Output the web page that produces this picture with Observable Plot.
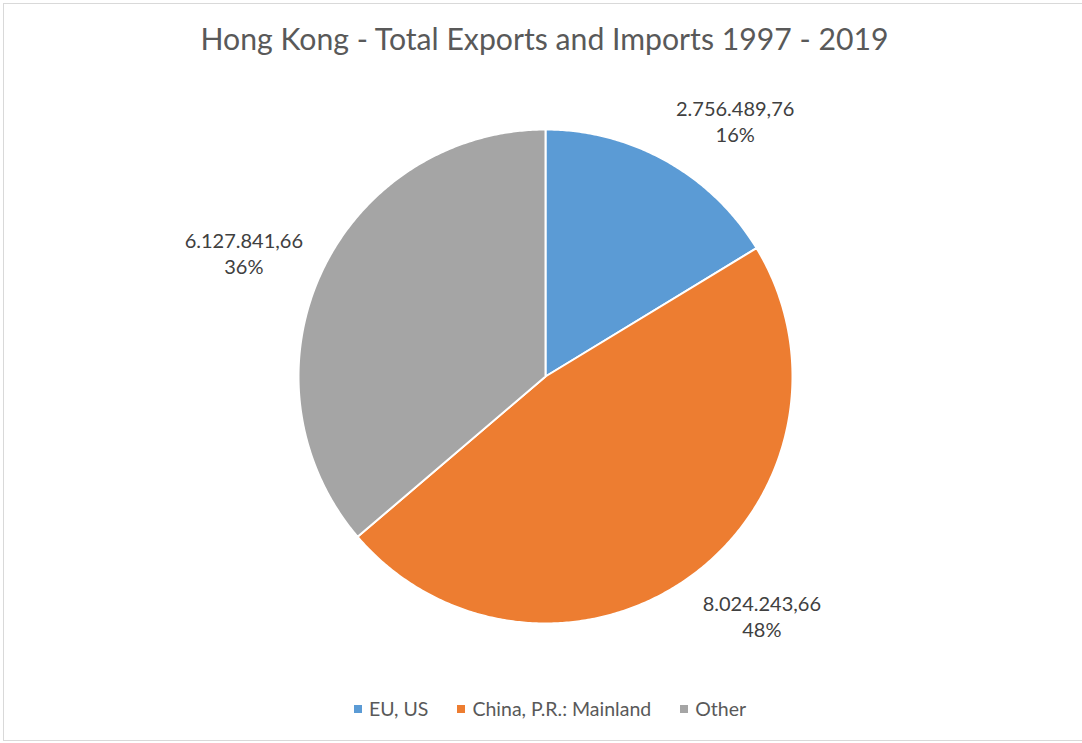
<!DOCTYPE html>
<html>
<head>
<meta charset="utf-8">
<script src="https://cdn.jsdelivr.net/npm/d3@7"></script>
<script src="https://cdn.jsdelivr.net/npm/@observablehq/plot@0.6"></script>
<style>
  html, body { margin: 0; padding: 0; background: #fff; }
  #wrap { position: relative; width: 1082px; height: 743px; overflow: hidden; font-family: Lato, "Open Sans", sans-serif; }
  #frame { position: absolute; left: 3px; top: 3px; width: 1100px; height: 736px; border: 1px solid #d9d9d9; border-right: none; }
  #title { position: absolute; left: 0; top: 20px; width: 1089px; text-align: center; font-size: 30.2px; color: #595959; white-space: nowrap; }
  #chart { position: absolute; left: 0; top: 0; }
  #legend { position: absolute; left: 0; top: 697px; width: 1100px; display: flex; justify-content: center; gap: 29px; font-size: 19.5px; color: #595959; }
  #legend .item { display: flex; align-items: center; }
  #legend .sw { width: 8px; height: 8px; margin-right: 7px; }
</style>
</head>
<body>
<div id="wrap">
  <div id="frame"></div>
  <div id="chart"></div>
  <div id="title">Hong Kong - Total Exports and Imports 1997 - 2019</div>
  <div id="legend"></div>
</div>
<script>
const categories = ["EU, US", "China, P.R.: Mainland", "Other"];
const values = [2756489.76, 8024243.66, 6127841.66];
const colors = ["#5B9BD5", "#ED7D31", "#A5A5A5"];

const W = 1082, H = 743, CX = 545, CY = 376, R = 247;

const data = categories.map((name, i) => ({name, value: values[i]}));
const total = d3.sum(values);
const arcs = d3.pie().sort(null).value(d => d.value)(data);

// whole percentages that add up to 100 (largest remainder)
const raw = values.map(v => v / total * 100);
const pct = raw.map(Math.floor);
let left = 100 - d3.sum(pct);
d3.range(values.length).sort((a, b) => (raw[b] - pct[b]) - (raw[a] - pct[a]))
  .forEach(i => { if (left > 0) { pct[i]++; left--; } });

// polygon points for each slice (angle measured clockwise from top)
const pts = [];
for (const a of arcs) {
  const n = Math.max(2, Math.ceil((a.endAngle - a.startAngle) / (Math.PI / 360)));
  pts.push({name: a.data.name, x: 0, y: 0});
  for (let k = 0; k <= n; k++) {
    const t = a.startAngle + (a.endAngle - a.startAngle) * k / n;
    pts.push({name: a.data.name, x: Math.sin(t), y: -Math.cos(t)});
  }
  pts.push({name: a.data.name, x: 0, y: 0});
}

const loc = d3.formatLocale({decimal: ",", thousands: ".", grouping: [3]});
const fmt = loc.format(",.2f");
const clamp = v => Math.max(-1, Math.min(1, v));
const hw = 61 / R, hh = 25 / R;
const labels = arcs.map((a, i) => {
  const m = (a.startAngle + a.endAngle) / 2;
  const s = Math.sin(m), c = Math.cos(m);
  return {
    x: s * 1.073 + clamp(2 * s) * hw,
    y: -c * 1.073 - clamp(1.2 * c) * hh,
    text: fmt(a.data.value) + "\n" + pct[i] + "%"
  };
});

const chart = Plot.plot({
  width: W,
  height: H,
  margin: 0,
  x: {domain: [-CX / R, (W - CX) / R], range: [0, W], axis: null},
  y: {domain: [-CY / R, (H - CY) / R], range: [0, H], axis: null},
  color: {domain: categories, range: colors},
  style: {background: "transparent", overflow: "visible"},
  marks: [
    Plot.line(pts, {x: "x", y: "y", z: "name", fill: "name", stroke: "#fff", strokeWidth: 2, strokeLinejoin: "round", curve: "linear"}),
    Plot.text(labels, {x: "x", y: "y", text: "text", fill: "#404040", fontSize: 20, lineHeight: 1.3, fontFamily: "Lato, 'Open Sans', sans-serif", textAnchor: "middle", lineAnchor: "middle"})
  ]
});
document.getElementById("chart").appendChild(chart);

const legend = document.getElementById("legend");
categories.forEach((c, i) => {
  const it = document.createElement("div");
  it.className = "item";
  const sw = document.createElement("div");
  sw.className = "sw";
  sw.style.background = colors[i];
  const tx = document.createElement("span");
  tx.textContent = c;
  it.appendChild(sw); it.appendChild(tx);
  legend.appendChild(it);
});
</script>
</body>
</html>
